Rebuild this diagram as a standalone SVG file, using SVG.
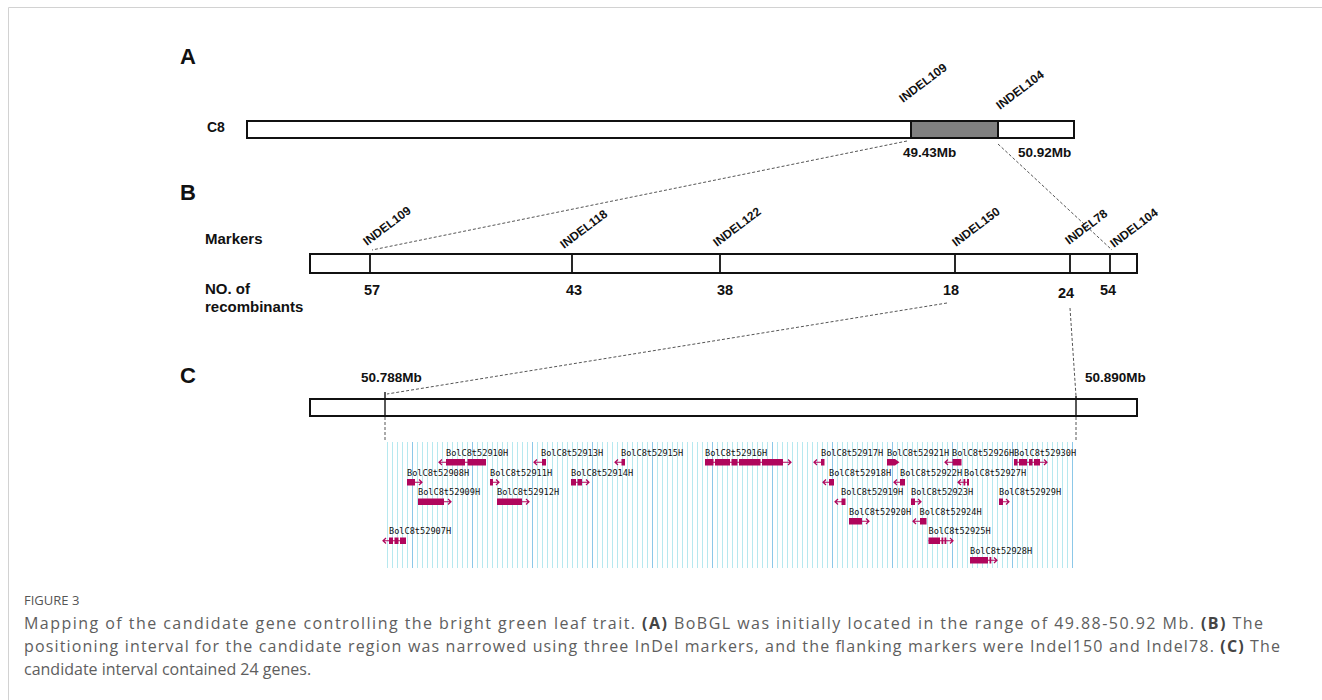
<svg xmlns="http://www.w3.org/2000/svg" width="1322" height="700" viewBox="0 0 1322 700">
<defs>
<style>
.lbl{font-family:"Liberation Sans",Arial,sans-serif;font-weight:bold;fill:#111}
.pl{font-size:22px}
.side{font-size:15px}
.mk{font-size:12px}
.num{font-size:14.5px;text-anchor:middle}
.mb{font-size:13.5px}
.bar{fill:#fff;stroke:#111;stroke-width:2}
.tick{stroke:#111;stroke-width:1.8}
.dash{stroke:#555;stroke-width:1;stroke-dasharray:3 2;fill:none}
.gt{font-family:"DejaVu Sans Mono","Liberation Mono",monospace;font-size:8.6px;fill:#111}
.gb{fill:#b0065c}
.ga{stroke:#b0065c;stroke-width:1.2;fill:none}
.cap{font-family:"Open Sans",Lato,sans-serif;font-size:16px;fill:#5e5e5e}
.capb{font-weight:bold;fill:#444}
</style>
<pattern id="grid" patternUnits="userSpaceOnUse" x="52" y="0" width="60" height="10">
<path d="M5.5 0V10M10.5 0V10M15.5 0V10M20.5 0V10M25.5 0V10M30.5 0V10M35.5 0V10M40.5 0V10M45.5 0V10M50.5 0V10M55.5 0V10" stroke="#b6e8ef" stroke-width="1"/>
<path d="M0.5 0V10" stroke="#8cc8e8" stroke-width="1"/>
</pattern>
</defs>
<rect width="1322" height="700" fill="#fff"/>
<path d="M8.5 700V7.5H1322" fill="none" stroke="#d2d2d2" stroke-width="1"/>

<g id="panel-A">
<text class="lbl pl" x="180" y="64">A</text>
<text class="lbl side" x="207" y="132" style="font-size:14px">C8</text>
<rect class="bar" x="247" y="121" width="827" height="17"/>
<rect x="911" y="121" width="87" height="17" fill="#808080" stroke="#111" stroke-width="2"/>
<text class="lbl mk" transform="translate(903,103) rotate(-37)">INDEL109</text>
<text class="lbl mk" transform="translate(1000,110) rotate(-37)">INDEL104</text>
<text class="lbl mb" x="903" y="157">49.43Mb</text>
<text class="lbl mb" x="1018" y="157">50.92Mb</text>
</g>

<g id="panel-B">
<text class="lbl pl" x="180" y="200">B</text>
<text class="lbl side" x="205" y="244">Markers</text>
<text class="lbl side" x="205" y="294">NO. of</text>
<text class="lbl side" x="205" y="312">recombinants</text>
<rect class="bar" x="310" y="254" width="827" height="19"/>
<path class="tick" d="M370 254V273M572 254V273M720 254V273M955 254V273M1070 254V273M1110 254V273"/>
<text class="lbl mk" transform="translate(367,246) rotate(-37)">INDEL109</text>
<text class="lbl mk" transform="translate(564,249) rotate(-37)">INDEL118</text>
<text class="lbl mk" transform="translate(717,247) rotate(-37)">INDEL122</text>
<text class="lbl mk" transform="translate(956,247) rotate(-37)">INDEL150</text>
<text class="lbl mk" transform="translate(1069,245) rotate(-37)">INDEL78</text>
<text class="lbl mk" transform="translate(1114,248) rotate(-37)">INDEL104</text>
<text class="lbl num" x="372" y="295">57</text>
<text class="lbl num" x="574" y="295">43</text>
<text class="lbl num" x="725" y="295">38</text>
<text class="lbl num" x="951" y="295">18</text>
<text class="lbl num" x="1066" y="298">24</text>
<text class="lbl num" x="1108" y="295">54</text>
</g>

<g id="panel-C">
<text class="lbl pl" x="180" y="383">C</text>
<text class="lbl mb" x="361" y="382">50.788Mb</text>
<text class="lbl mb" x="1085" y="382">50.890Mb</text>
<rect class="bar" x="310" y="399" width="827" height="17"/>
<path class="tick" d="M385 392V416M1076 396V416" style="stroke-width:1.4"/>
</g>

<g id="connectors">
<path class="dash" d="M907 141L372 250"/>
<path class="dash" d="M998 144L1112 250"/>
<path class="dash" d="M947 303L387 394"/>
<path class="dash" d="M1070 308L1076 396"/>
<path class="dash" d="M385 417V442M1076 417V442"/>
</g>

<g id="gene-track">
<rect x="385" y="442" width="691" height="126" fill="url(#grid)"/>
</g>

<g id="gene-52910">
<text class="gt" x="446" y="455.5">BolC8t52910H</text>
<path class="ga" d="M486 462.25H439M442 459.45L439 462.25L442 465.05"/>
<rect class="gb" x="446" y="459" width="19" height="6.5"/><rect class="gb" x="467.5" y="459" width="18.5" height="6.5"/>
</g>
<g id="gene-52913">
<text class="gt" x="541" y="455.5">BolC8t52913H</text>
<path class="ga" d="M546 462.25H534M537 459.45L534 462.25L537 465.05"/>
<rect class="gb" x="542" y="459" width="4" height="6.5"/>
</g>
<g id="gene-52915">
<text class="gt" x="621" y="455.5">BolC8t52915H</text>
<path class="ga" d="M625 462.25H615M618 459.45L615 462.25L618 465.05"/>
<rect class="gb" x="621.5" y="459" width="3.5" height="6.5"/>
</g>
<g id="gene-52916">
<text class="gt" x="705" y="455.5">BolC8t52916H</text>
<path class="ga" d="M705 462.25H791M788 459.45L791 462.25L788 465.05"/>
<rect class="gb" x="705" y="459" width="8.5" height="6.5"/><rect class="gb" x="715" y="459" width="15" height="6.5"/><rect class="gb" x="731.5" y="459" width="6" height="6.5"/><rect class="gb" x="739" y="459" width="21.5" height="6.5"/><rect class="gb" x="762" y="459" width="21" height="6.5"/>
</g>
<g id="gene-52917">
<text class="gt" x="821" y="455.5">BolC8t52917H</text>
<path class="ga" d="M824 462.25H814M817 459.45L814 462.25L817 465.05"/>
<rect class="gb" x="821" y="459" width="3.5" height="6.5"/>
</g>
<g id="gene-52921">
<text class="gt" x="887" y="455.5">BolC8t52921H</text>
<polygon class="gb" points="887,459 895,459 899.5,462.25 895,465.5 887,465.5"/>
</g>
<g id="gene-52926">
<text class="gt" x="952" y="455.5">BolC8t52926H</text>
<path class="ga" d="M961 462.25H945M948 459.45L945 462.25L948 465.05"/>
<rect class="gb" x="952.5" y="459" width="9" height="6.5"/>
</g>
<g id="gene-52930">
<text class="gt" x="1014" y="455.5">BolC8t52930H</text>
<path class="ga" d="M1014 462.25H1047M1044 459.45L1047 462.25L1044 465.05"/>
<rect class="gb" x="1014" y="459" width="3.5" height="6.5"/><rect class="gb" x="1019" y="459" width="8" height="6.5"/><rect class="gb" x="1029" y="459" width="3.5" height="6.5"/><rect class="gb" x="1034" y="459" width="6" height="6.5"/>
</g>
<g id="gene-52908">
<text class="gt" x="407" y="475.5">BolC8t52908H</text>
<path class="ga" d="M407 482.25H422M419 479.45L422 482.25L419 485.05"/>
<rect class="gb" x="407" y="479" width="8" height="6.5"/>
</g>
<g id="gene-52911">
<text class="gt" x="490" y="475.5">BolC8t52911H</text>
<path class="ga" d="M490 482.25H499M496 479.45L499 482.25L496 485.05"/>
<rect class="gb" x="490" y="479" width="3" height="6.5"/>
</g>
<g id="gene-52914">
<text class="gt" x="571" y="475.5">BolC8t52914H</text>
<path class="ga" d="M571 482.25H589M586 479.45L589 482.25L586 485.05"/>
<rect class="gb" x="571" y="479" width="5" height="6.5"/><rect class="gb" x="577.5" y="479" width="4.5" height="6.5"/>
</g>
<g id="gene-52918">
<text class="gt" x="829" y="475.5">BolC8t52918H</text>
<path class="ga" d="M834 482.25H823M826 479.45L823 482.25L826 485.05"/>
<rect class="gb" x="829" y="479" width="5" height="6.5"/>
</g>
<g id="gene-52922">
<text class="gt" x="900" y="475.5">BolC8t52922H</text>
<path class="ga" d="M905 482.25H894M897 479.45L894 482.25L897 485.05"/>
<rect class="gb" x="900" y="479" width="5" height="6.5"/>
</g>
<g id="gene-52927">
<text class="gt" x="964" y="475.5">BolC8t52927H</text>
<path class="ga" d="M969 482.25H958M961 479.45L958 482.25L961 485.05"/>
<rect class="gb" x="963.5" y="479" width="1.8" height="6.5"/><rect class="gb" x="967" y="479" width="2" height="6.5"/>
</g>
<g id="gene-52909">
<text class="gt" x="418" y="495">BolC8t52909H</text>
<path class="ga" d="M418 501.75H451M448 498.95L451 501.75L448 504.55"/>
<rect class="gb" x="418" y="498.5" width="26" height="6.5"/>
</g>
<g id="gene-52912">
<text class="gt" x="497" y="495">BolC8t52912H</text>
<path class="ga" d="M497 501.75H529M526 498.95L529 501.75L526 504.55"/>
<rect class="gb" x="497" y="498.5" width="25" height="6.5"/>
</g>
<g id="gene-52919">
<text class="gt" x="841" y="495">BolC8t52919H</text>
<path class="ga" d="M845 501.75H835M838 498.95L835 501.75L838 504.55"/>
<rect class="gb" x="841.5" y="498.5" width="4" height="6.5"/>
</g>
<g id="gene-52923">
<text class="gt" x="911" y="495">BolC8t52923H</text>
<path class="ga" d="M911 501.75H921M918 498.95L921 501.75L918 504.55"/>
<rect class="gb" x="911" y="498.5" width="4" height="6.5"/>
</g>
<g id="gene-52929">
<text class="gt" x="999" y="495">BolC8t52929H</text>
<path class="ga" d="M999 501.75H1009M1006 498.95L1009 501.75L1006 504.55"/>
<rect class="gb" x="999" y="498.5" width="4" height="6.5"/>
</g>
<g id="gene-52920">
<text class="gt" x="849" y="514.5">BolC8t52920H</text>
<path class="ga" d="M849 521.25H869M866 518.45L869 521.25L866 524.05"/>
<rect class="gb" x="849" y="518" width="13" height="6.5"/>
</g>
<g id="gene-52924">
<text class="gt" x="919.5" y="514.5">BolC8t52924H</text>
<path class="ga" d="M926 521.25H913M916 518.45L913 521.25L916 524.05"/>
<rect class="gb" x="920" y="518" width="6.5" height="6.5"/>
</g>
<g id="gene-52907">
<text class="gt" x="389" y="534">BolC8t52907H</text>
<path class="ga" d="M406 540.75H383M386 537.95L383 540.75L386 543.55"/>
<rect class="gb" x="389" y="537.5" width="4" height="6.5"/><rect class="gb" x="394.5" y="537.5" width="4" height="6.5"/><rect class="gb" x="400" y="537.5" width="6" height="6.5"/>
</g>
<g id="gene-52925">
<text class="gt" x="928.5" y="534">BolC8t52925H</text>
<path class="ga" d="M928.5 540.75H953M950 537.95L953 540.75L950 543.55"/>
<rect class="gb" x="928.5" y="537.5" width="11.5" height="6.5"/><rect class="gb" x="941.5" y="537.5" width="1.8" height="6.5"/><rect class="gb" x="944.5" y="537.5" width="1.8" height="6.5"/>
</g>
<g id="gene-52928">
<text class="gt" x="970" y="553.5">BolC8t52928H</text>
<path class="ga" d="M970 560.25H997M994 557.45L997 560.25L994 563.05"/>
<rect class="gb" x="970" y="557" width="18" height="6.5"/><rect class="gb" x="989.5" y="557" width="1.8" height="6.5"/>
</g>

<g id="caption">
<text class="cap" x="24" y="605" style="font-size:13px;fill:#555">FIGURE 3</text>
<text class="cap" x="24" y="629" textLength="1239">Mapping of the candidate gene controlling the bright green leaf trait. <tspan class="capb">(A)</tspan> BoBGL was initially located in the range of 49.88-50.92 Mb. <tspan class="capb">(B)</tspan> The</text>
<text class="cap" x="24" y="652" textLength="1256">positioning interval for the candidate region was narrowed using three InDel markers, and the flanking markers were Indel150 and Indel78. <tspan class="capb">(C)</tspan> The</text>
<text class="cap" x="24" y="675">candidate interval contained 24 genes.</text>
</g>
</svg>
